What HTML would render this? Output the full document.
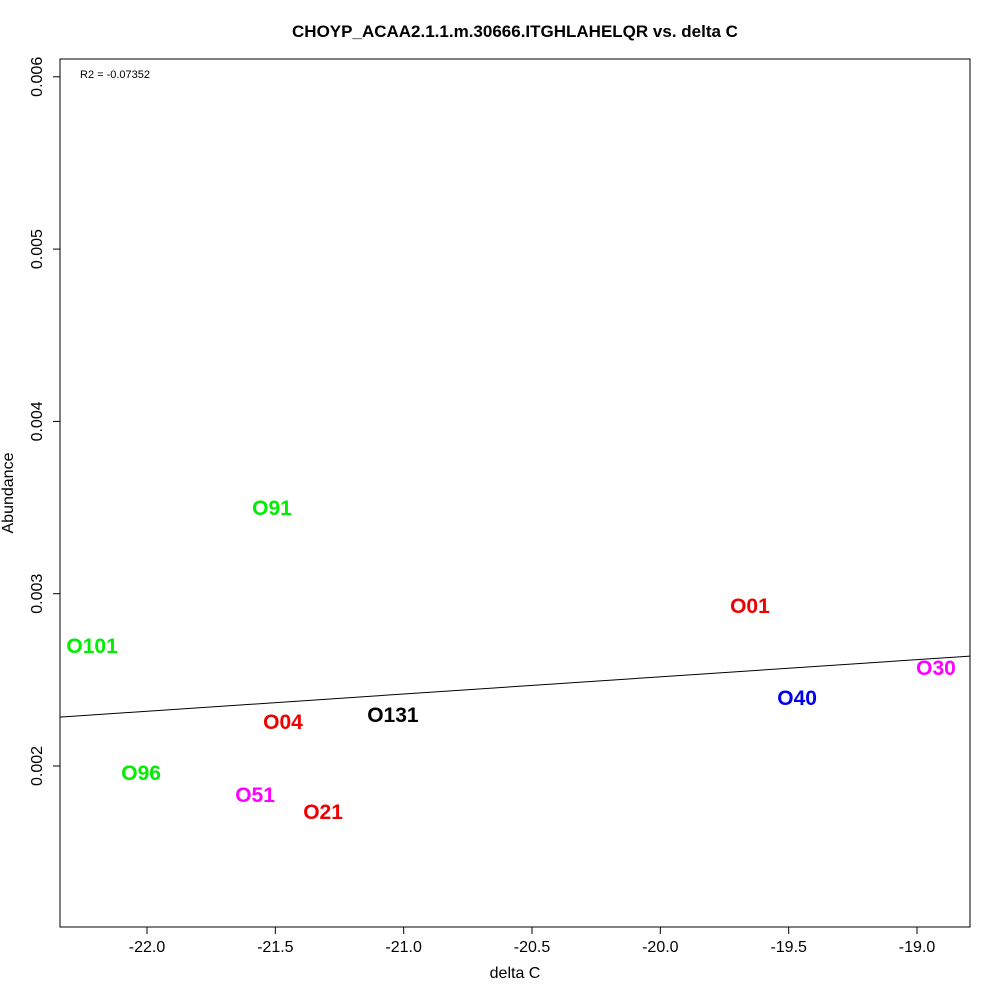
<!DOCTYPE html>
<html><head><meta charset="utf-8"><style>
body{margin:0;background:#fff;font-family:"Liberation Sans",Arial,sans-serif}
</style></head><body>
<svg id="chart" width="1000" height="1000" xmlns="http://www.w3.org/2000/svg">
<rect width="1000" height="1000" fill="#fff"/>
<text x="515" y="37" text-anchor="middle" font-size="17" font-weight="bold">CHOYP_ACAA2.1.1.m.30666.ITGHLAHELQR vs. delta C</text>
<rect x="60" y="59" width="910" height="868" fill="none" stroke="#000"/>
<text x="80" y="78" font-size="11">R2 = -0.07352</text>
<text x="515" y="978" text-anchor="middle" font-size="16">delta C</text>
<text transform="translate(13,493) rotate(-90)" text-anchor="middle" font-size="16">Abundance</text>
<g id="xaxis"></g>
<g id="yaxis"></g>
<g id="fit"></g>
<g id="pts"></g>
</svg>
<script>
const labels=["O91","O101","O01","O30","O40","O131","O04","O96","O51","O21"];
const xs=[-21.513,-22.214,-19.651,-18.926,-19.467,-21.042,-21.470,-22.023,-21.579,-21.314];
const ys=[0.003497,0.002696,0.002929,0.002569,0.002395,0.002296,0.002255,0.001959,0.001831,0.001733];
const colors=["#00ee00","#00ee00","#ee0000","#ff00ff","#0000ee","#000000","#ee0000","#00ee00","#ff00ff","#ee0000"];
const xTicks=[-22.0,-21.5,-21.0,-20.5,-20.0,-19.5,-19.0];
const xTickLabels=["-22.0","-21.5","-21.0","-20.5","-20.0","-19.5","-19.0"];
const yTicks=[0.002,0.003,0.004,0.005,0.006];
const yTickLabels=["0.002","0.003","0.004","0.005","0.006"];
const fitX=[-22.339,-18.793];
const fitY=[0.002284,0.002638];
const NS="http://www.w3.org/2000/svg";
const X=v=>147+(v+22)*256.67;
const Y=v=>766-(v-0.002)*172300;
function mk(tag,attrs,parent,txt){const e=document.createElementNS(NS,tag);for(const k in attrs)e.setAttribute(k,attrs[k]);if(txt!==undefined)e.textContent=txt;parent.appendChild(e);return e;}
const xa=document.getElementById('xaxis'),ya=document.getElementById('yaxis');
mk('line',{x1:X(xTicks[0]),x2:X(xTicks[xTicks.length-1]),y1:927,y2:927,stroke:'#000'},xa);
xTicks.forEach((t,i)=>{
 const l=mk('line',{x1:X(t),x2:X(t),y1:927,y2:934,stroke:'#000'},xa);
 
 
 const tx=mk('text',{x:X(t),y:952,'text-anchor':'middle','font-size':16},xa,xTickLabels[i]);
 
 
});
mk('line',{x1:60,x2:60,y1:Y(yTicks[0]),y2:Y(yTicks[yTicks.length-1]),stroke:'#000'},ya);
yTicks.forEach((t,i)=>{
 const l=mk('line',{x1:53,x2:60,y1:Y(t),y2:Y(t),stroke:'#000'},ya);
 
 
 const tx=mk('text',{transform:`translate(42,${Y(t)}) rotate(-90)`,'text-anchor':'middle','font-size':16},ya,yTickLabels[i]);
 
 
});
const fl=mk('line',{x1:X(fitX[0]),y1:Y(fitY[0]),x2:X(fitX[1]),y2:Y(fitY[1]),stroke:'#000','stroke-width':1},document.getElementById('fit'));


const pg=document.getElementById('pts');
labels.forEach((s,i)=>{
 const t=mk('text',{x:X(xs[i]),y:Y(ys[i])+7,'text-anchor':'middle','font-size':21,'font-weight':'bold',fill:colors[i]},pg,s);
 
 
});
</script>
</body></html>
